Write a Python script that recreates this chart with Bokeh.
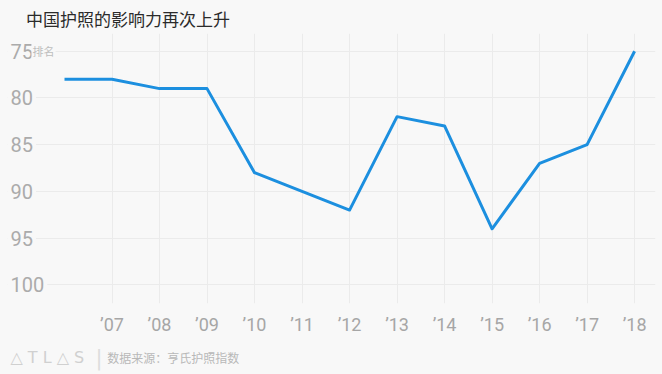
from bokeh.plotting import figure
from bokeh.layouts import column
from bokeh.models import Range1d, FixedTicker
from bokeh.core.properties import value
from bokeh.embed import file_html
from bokeh.resources import INLINE

# ---- data ----
years = [2006, 2007, 2008, 2009, 2010, 2011, 2012, 2013, 2014, 2015, 2016, 2017, 2018]
rank = [78, 78, 79, 79, 88, 90, 92, 82, 83, 94, 87, 85, 75]
y_ticks = [75, 80, 85, 90, 95, 100]
x_ticks = [2007, 2008, 2009, 2010, 2011, 2012, 2013, 2014, 2015, 2016, 2017, 2018]
x_tick_labels = ["’07", "’08", "’09", "’10", "’11", "’12", "’13", "’14", "’15", "’16", "’17", "’18"]
title_text = "中国护照的影响力再次上升"
y_unit = "排名"
logo_text = "△ T L △ S"
source_text = "数据来源：亨氏护照指数"

BG = "#f8f8f8"
GRID = "#ebebeb"
LINE = "#1c8fdf"
CJK = "Noto Sans CJK SC"
W = 662


def blank(h):
    f = figure(width=W, height=h, output_backend="svg", toolbar_location=None,
               x_range=Range1d(0, W), y_range=Range1d(h, 0),
               min_border=0, background_fill_color=BG, border_fill_color=BG,
               outline_line_color=None, title_location=None,
               x_axis_location=None, y_axis_location=None)
    f.grid.visible = False
    return f


# header
head = blank(33)
head.text(x=[19], y=[18], text=[title_text], text_font=value(CJK), text_font_size="17px",
          text_color="#2b2b2b", text_align="left", text_baseline="middle")

# main chart
p = figure(width=W, height=307, output_backend="svg", toolbar_location=None,
           x_range=Range1d(2004.8, 2018.44), y_range=Range1d(102.0, 73.1),
           min_border_left=7, min_border_right=7, min_border_top=0, min_border_bottom=37,
           background_fill_color=BG, border_fill_color=BG, outline_line_color=None,
           title_location=None, y_axis_location=None)

p.ygrid.ticker = FixedTicker(ticks=y_ticks)
p.xgrid.ticker = FixedTicker(ticks=x_ticks)
p.grid.grid_line_color = GRID
p.grid.grid_line_width = 1

ax = p.xaxis[0]
ax.ticker = FixedTicker(ticks=x_ticks)
ax.major_label_overrides = dict(zip(x_ticks, x_tick_labels))
ax.axis_line_color = None
ax.major_tick_line_color = None
ax.minor_tick_line_color = None
ax.major_tick_out = 0
ax.major_tick_in = 0
ax.minor_tick_out = 0
ax.major_label_standoff = 10
ax.major_label_text_font = "Roboto"
ax.major_label_text_font_size = "18px"
ax.major_label_text_color = "#a6a6a6"

p.line(years, rank, line_width=3, color=LINE, line_join="round")

x0 = p.x_range.start
p.text(x=[x0] * len(y_ticks), y=y_ticks, text=[str(t) for t in y_ticks],
       text_font=value("Roboto"), text_font_size="20px", text_color="#ababab",
       text_align="left", text_baseline="middle",
       background_fill_color=BG, padding=3)
p.text(x=[x0], y=[y_ticks[0]], text=[y_unit], x_offset=24,
       text_font=value(CJK), text_font_size="11px", text_color="#bdbdbd",
       text_align="left", text_baseline="middle",
       background_fill_color=BG, padding=1)

# footer
foot = blank(34)
foot.text(x=[3], y=[17], text=[logo_text], text_font=value("DejaVu Sans"), text_font_size="16px",
          text_color="#d0d0d0", text_align="left", text_baseline="middle")
foot.text(x=[90], y=[17], text=["|"], text_font=value("DejaVu Sans"), text_font_size="21px",
          text_color="#dddddd", text_align="left", text_baseline="middle")
foot.text(x=[102], y=[17], text=[source_text], text_font=value(CJK), text_font_size="12px",
          text_color="#b8b8b8", text_align="left", text_baseline="middle")

layout = column(head, p, foot, spacing=0)

html = file_html(layout, INLINE)
html = html.replace("<head>", "<head><style>html,body{background:#f8f8f8;}</style>", 1)
open("out.html", "w").write(html)
